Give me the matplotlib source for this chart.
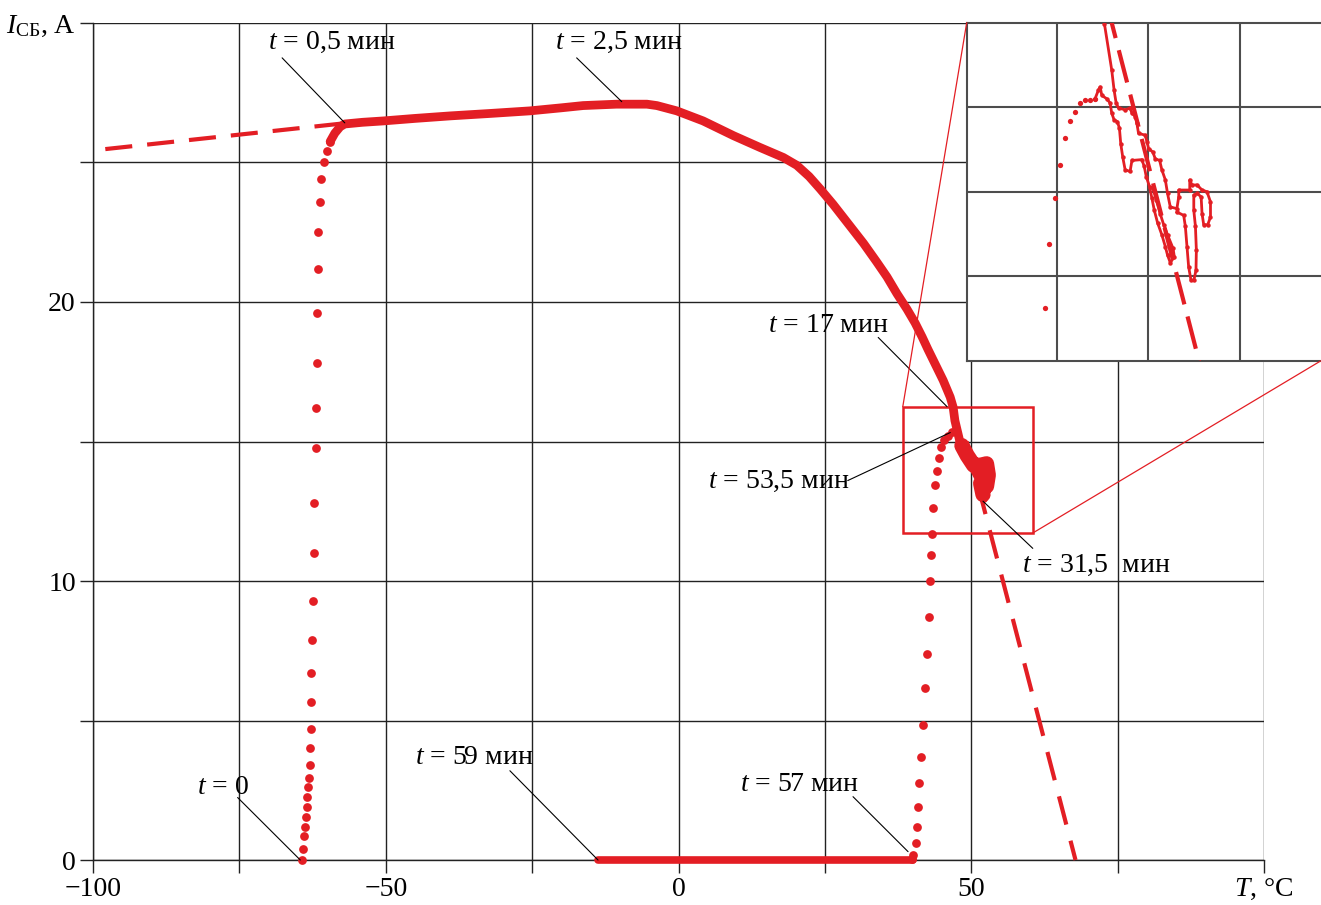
import matplotlib.pyplot as plt
from matplotlib.patches import Rectangle, ConnectionPatch

plt.rcParams['font.family'] = ['Liberation Serif', 'DejaVu Serif']
plt.rcParams['mathtext.fontset'] = 'custom'
plt.rcParams['mathtext.rm'] = 'Liberation Serif'
plt.rcParams['mathtext.it'] = 'Liberation Serif:italic'

RED = '#e31e24'

# ── data (T in °C, I in A) ───────────────────────────────────────────────────
# start of the run: current rises while T stays near -62 °C
rise1_T = [-64.3, -64.1, -63.9, -63.8, -63.6, -63.5, -63.4, -63.3, -63.1, -63.0,
           -62.9, -62.8, -62.7, -62.7, -62.6, -62.5, -62.2, -62.2, -62.0, -61.9,
           -61.8, -61.7, -61.6, -61.6, -61.3, -61.0, -60.5, -60.0, -59.5]
rise1_I = [0.0, 0.4, 0.85, 1.2, 1.55, 1.9, 2.25, 2.6, 2.95, 3.4,
           4.0, 4.7, 5.65, 6.7, 7.9, 9.3, 11.0, 12.8, 14.75, 16.2,
           17.8, 19.6, 21.2, 22.5, 23.6, 24.4, 25.0, 25.4, 25.75]

# main heating curve
curve_T = [-59.5, -58.7, -57.8, -57.0, -54.0, -50.4, -45.0, -39.0, -32.0, -25.4,
           -20.0, -16.3, -10.6, -5.4, -3.7, -0.3, 4.2, 9.4, 13.9, 17.9,
           20.2, 22.3, 24.2, 26.4, 29.3, 31.6, 33.8, 35.6, 37.3, 39.0,
           40.4, 41.6, 42.6, 44.1, 45.2, 46.4, 46.9, 47.2, 48.0, 48.9,
           49.6, 50.5, 51.5, 52.0, 52.1]
curve_I = [25.75, 26.05, 26.28, 26.38, 26.44, 26.49, 26.58, 26.67, 26.76, 26.85,
           26.96, 27.04, 27.09, 27.09, 27.04, 26.85, 26.49, 25.96, 25.54, 25.18,
           24.9, 24.5, 24.05, 23.5, 22.72, 22.1, 21.45, 20.9, 20.3, 19.75,
           19.25, 18.75, 18.3, 17.66, 17.19, 16.59, 16.23, 15.75, 15.04, 14.68,
           14.3, 14.0, 13.6, 13.2, 12.95]

# tangled part near 31.5 min
blob_T = [48.4, 49.3, 50.4, 51.6, 52.6, 52.9, 52.6, 51.6, 52.0]
blob_I = [14.85, 14.5, 14.15, 14.15, 14.2, 13.8, 13.4, 13.5, 13.1]

# zero current, 53.5 ... 59 min
zero_T = [-13.7, 40.0]
zero_I = [0.0, 0.0]

# second rise of the current (57 -> 53.5 min, plotted as dots)
rise2_T = [39.8, 40.1, 40.6, 40.8, 40.95, 41.1, 41.35, 41.8, 42.1, 42.4,
           42.7, 42.95, 43.2, 43.3, 43.5, 43.8, 44.2, 44.5, 44.8, 45.3, 46.0, 46.7]
rise2_I = [0.02, 0.18, 0.62, 1.19, 1.91, 2.75, 3.7, 4.83, 6.15, 7.4,
           8.71, 9.99, 10.92, 11.7, 12.63, 13.43, 13.96, 14.4, 14.8, 15.05, 15.2, 15.35]

# dashed extrapolations
extL_T = [-97.9, -57.3]
extL_I = [25.48, 26.4]
extR_T = [49.2, 67.8]
extR_I = [15.0, 0.0]

# zoomed region (box) and inset data
box_T = [38.3, 60.5]
box_I = [11.72, 16.25]

in_rise_T = [44.36, 44.60, 44.91, 45.18, 45.45, 45.73, 46.00, 46.27, 46.55, 46.82, 47.09]
in_rise_I = [13.62, 14.38, 14.92, 15.32, 15.64, 15.84, 15.94, 16.05, 16.09, 16.09, 16.10]

in_a_T = [47.60, 48.00, 48.13, 48.24, 48.37, 48.73, 49.00, 49.10, 49.28, 49.37,
          49.46, 49.82, 49.92, 50.01, 50.24, 50.37, 50.61, 50.73, 50.92, 51.04,
          51.19, 51.55, 51.65, 51.65, 52.25, 52.25, 52.37, 52.65, 52.92, 53.19,
          53.38, 53.38, 53.23, 53.01, 52.92, 52.87, 52.65, 52.47, 52.47, 52.56,
          52.61, 52.59, 52.47, 52.32, 52.19, 52.10, 52.01, 51.92, 51.55]
in_a_I = [16.99, 16.44, 16.20, 16.05, 15.99, 15.97, 15.99, 15.93, 15.89, 15.81,
          15.69, 15.67, 15.59, 15.51, 15.47, 15.39, 15.37, 15.26, 15.14, 14.98,
          14.82, 14.80, 14.94, 15.02, 15.02, 15.14, 15.08, 15.08, 15.02, 15.00,
          14.88, 14.70, 14.61, 14.61, 14.74, 14.94, 14.98, 14.96, 14.78, 14.59,
          14.31, 14.07, 13.95, 13.95, 14.11, 14.35, 14.59, 14.72, 14.76]

in_b_T = [47.09, 47.27, 47.37, 47.46, 47.73, 47.91, 48.00, 48.13, 48.31, 48.42,
          48.49, 48.60, 48.73, 49.00, 49.10, 49.64, 49.77, 49.88, 50.06, 50.19,
          50.32, 50.50, 50.73, 50.92, 51.04, 51.19, 51.41, 51.34, 51.04, 50.83,
          50.64, 50.43, 50.24]
in_b_I = [16.10, 16.20, 16.24, 16.14, 16.10, 16.05, 15.93, 15.85, 15.83, 15.75,
          15.57, 15.41, 15.26, 15.24, 15.37, 15.38, 15.30, 15.18, 15.06, 14.92,
          14.78, 14.63, 14.49, 14.35, 14.25, 14.16, 14.23, 14.33, 14.49, 14.61,
          14.74, 14.90, 15.04]

in_ext_T = [47.76, 52.87]
in_ext_I = [17.2, 12.9]

# annotations: text, text position (left, centre), pointer start, pointer end
labels = [
    ('$t$ = 0,5 мин', (-70.1, 29.29), (-67.7, 28.75), (-57.0, 26.42)),
    ('$t$ = 2,5 мин', (-21.1, 29.29), (-17.4, 28.75), (-9.7, 27.18)),
    ('$t$ = 17 мин', (15.3, 19.15), (34.1, 18.73), (45.85, 16.25)),
    ('$t$ = 53,5 мин', (5.0, 13.57), (28.9, 13.6), (46.4, 15.32)),
    ('$t$ = 31,5  мин', (58.7, 10.56), (60.5, 11.17), (52.0, 12.86)),
    ('$t$ = 0', (-82.2, 2.61), (-75.3, 2.24), (-64.6, 0.0)),
    ('$t$ = 59 мин', (-45.0, 3.69), (-28.8, 3.2), (-13.75, 0.0)),
    ('$t$ = 57 мин', (10.5, 2.69), (29.8, 2.27), (39.2, 0.3)),
]

x_ticks = [-100, -75, -50, -25, 0, 25, 50, 75, 100]
x_labels = ['−100', '', '−50', '', '0', '', '50', '', '$T$, °C']
y_ticks = [0, 5, 10, 15, 20, 25, 30]
y_labels = ['0', '', '10', '', '20', '', '$I_{\\mathrm{СБ}}$, A']

# ── figure ───────────────────────────────────────────────────────────────────
fig = plt.figure(figsize=(13.21, 9.05), dpi=100)
ax = fig.add_axes([0.0704, 0.0497, 0.8865, 0.9249])
ax.set_xlim(-100, 100)
ax.set_ylim(0, 30)
ax.set_xticks(x_ticks)
ax.set_xticklabels(x_labels)
ax.set_yticks(y_ticks)
ax.set_yticklabels(y_labels)
ax.tick_params(direction='out', length=9.4, width=1.0, color='#222222',
               labelsize=20, pad=3)
ax.grid(True, color='#222222', lw=1.0)
for s in ['top', 'right']:
    ax.spines[s].set_visible(False)
for s in ['left', 'bottom']:
    ax.spines[s].set_color('#222222')
    ax.spines[s].set_linewidth(1.0)

ax.plot(extL_T, extL_I, color=RED, lw=3, dashes=(6.5, 3.6), zorder=3)
ax.plot(extR_T, extR_I, color=RED, lw=3, dashes=(7, 4), zorder=3, clip_on=False)
ax.plot(curve_T, curve_I, color=RED, lw=6.3, solid_capstyle='round',
        solid_joinstyle='round', zorder=4)
ax.plot(blob_T, blob_I, color=RED, lw=11, solid_capstyle='round',
        solid_joinstyle='round', zorder=4)
ax.plot(zero_T, zero_I, color=RED, lw=5.5, solid_capstyle='round',
        zorder=4, clip_on=False)
ax.plot(rise1_T, rise1_I, 'o', color=RED, ms=6.3, mew=0, zorder=4, clip_on=False)
ax.plot(rise2_T, rise2_I, 'o', color=RED, ms=6.3, mew=0, zorder=4, clip_on=False)

for txt, pos, p0, p1 in labels:
    ax.text(pos[0], pos[1], txt, fontsize=20, ha='left', va='center', zorder=6)
    ax.annotate('', xy=p1, xytext=p0,
                arrowprops=dict(arrowstyle='-', color='k', lw=0.8,
                                shrinkA=0, shrinkB=0), zorder=6)

ax.add_patch(Rectangle((box_T[0], box_I[0]), box_T[1] - box_T[0],
                       box_I[1] - box_I[0], fill=False, edgecolor=RED,
                       lw=1.8, zorder=5))

# ── inset ────────────────────────────────────────────────────────────────────
axin = fig.add_axes([0.7318, 0.6014, 0.2682, 0.3735])
axin.set_xlim(40.1, 59.4)
axin.set_ylim(13.0, 17.0)
axin.set_xticks([45, 50, 55])
axin.set_yticks([14, 15, 16])
axin.tick_params(length=0, labelbottom=False, labelleft=False)
axin.grid(True, color='#4d4d4d', lw=1.5)
axin.spines['right'].set_visible(False)
for s in ['left', 'top', 'bottom']:
    axin.spines[s].set_color('#4d4d4d')
    axin.spines[s].set_linewidth(1.5)

axin.plot(in_ext_T, in_ext_I, color=RED, lw=3, dashes=(8, 3), zorder=3)
axin.plot(in_a_T, in_a_I, '-o', color=RED, lw=2.0, ms=3.2, mew=0, zorder=4)
axin.plot(in_b_T, in_b_I, '-o', color=RED, lw=2.0, ms=3.2, mew=0, zorder=4)
axin.plot(in_rise_T, in_rise_I, 'o', color=RED, ms=3.8, mew=0, zorder=4)

# zoom connectors
con1 = ConnectionPatch(xyA=(box_T[0], box_I[1]), coordsA=ax.transData,
                       xyB=(0, 1), coordsB=axin.transAxes, color=RED, lw=0.9)
con2 = ConnectionPatch(xyA=(box_T[1], box_I[0]), coordsA=ax.transData,
                       xyB=(1, 0), coordsB=axin.transAxes, color=RED, lw=0.9)
fig.add_artist(con1)
fig.add_artist(con2)

fig.savefig('out.png', dpi=100)
